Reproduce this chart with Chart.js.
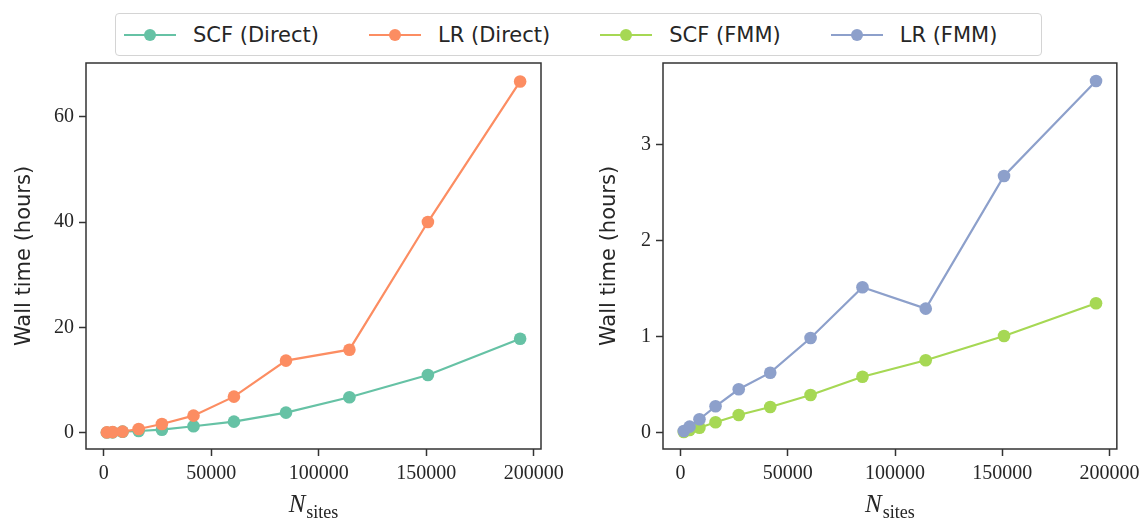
<!DOCTYPE html>
<html>
<head>
<meta charset="utf-8">
<script src="https://cdn.jsdelivr.net/npm/chart.js@4"></script>
<style>
  body { margin: 0; background: #fff; width: 1146px; height: 521px; position: relative; overflow: hidden; }
  .box { position: absolute; top: 0; width: 573px; height: 521px; }
  #legend {
    position: absolute; left: 115px; top: 13px; width: 927px; height: 43px; box-sizing: border-box;
    border: 1px solid #d4d4d4; border-radius: 4px; display: flex; align-items: center;
    padding-left: 8px; font-family: "DejaVu Sans"; font-size: 21px; color: #262626; background: #fff;
  }
  .item { display: flex; align-items: center; margin-right: 50px; white-space: nowrap; }
  .sw { position: relative; width: 52px; height: 2px; margin-right: 17px; }
  .sw i { position: absolute; left: 20px; top: -5px; width: 12px; height: 12px; border-radius: 50%; }
</style>
</head>
<body>
<div class="box" style="left:0"><canvas id="chartDirect" width="573" height="521"></canvas></div>
<div class="box" style="left:573px"><canvas id="chartFmm" width="573" height="521"></canvas></div>
<div id="legend"></div>
<script>
// N_sites for each run
const sites = [1500, 4200, 8800, 16300, 27100, 41800, 60600, 84800, 114300, 150800, 193700];
// wall time in hours
const scfDirect = [0.02, 0.05, 0.19, 0.32, 0.57, 1.22, 2.09, 3.80, 6.72, 10.96, 17.85];
const lrDirect = [0.05, 0.10, 0.20, 0.70, 1.65, 3.23, 6.84, 13.68, 15.76, 40.0, 66.7];
const scfFmm = [0.007, 0.028, 0.052, 0.108, 0.184, 0.268, 0.393, 0.583, 0.754, 1.007, 1.348];
const lrFmm = [0.018, 0.063, 0.14, 0.275, 0.452, 0.625, 0.986, 1.515, 1.292, 2.674, 3.664];

const xTicks = [0, 50000, 100000, 150000, 200000];
const yTicksDirect = [0, 20, 40, 60];
const yTicksFmm = [0, 1, 2, 3];

const seriesNames = ["SCF (Direct)", "LR (Direct)", "SCF (FMM)", "LR (FMM)"];
const seriesColors = ["#66c2a5", "#fc8d62", "#a6d854", "#8da0cb"];
const yTitle = "Wall time (hours)";
const xTitleMain = "N";
const xTitleSub = "sites";

const axisColor = "#333333";
const textColor = "#262626";

// frame around the plot + the N_sites label
const framePlugin = {
  id: "frame",
  afterDraw(chart) {
    const { ctx, chartArea: a } = chart;
    ctx.save();
    ctx.strokeStyle = axisColor;
    ctx.lineWidth = 1.5;
    ctx.strokeRect(a.left, a.top, a.right - a.left, a.bottom - a.top);

    const cx = (a.left + a.right) / 2;
    ctx.fillStyle = textColor;
    ctx.textBaseline = "alphabetic";
    ctx.font = "italic 25px 'Liberation Serif'";
    const wMain = ctx.measureText(xTitleMain).width;
    ctx.font = "18px 'Liberation Serif'";
    const wSub = ctx.measureText(xTitleSub).width;
    const x0 = cx - (wMain + wSub + 1) / 2;
    ctx.font = "italic 25px 'Liberation Serif'";
    ctx.fillText(xTitleMain, x0, 512);
    ctx.font = "18px 'Liberation Serif'";
    ctx.fillText(xTitleSub, x0 + wMain + 1, 518);
    ctx.restore();
  }
};

function makeSet(label, data, color, order) {
  return {
    label,
    data: sites.map((x, i) => ({ x, y: data[i] })),
    borderColor: color,
    backgroundColor: color,
    borderWidth: 2.2,
    pointRadius: 6.3,
    pointHoverRadius: 6.3,
    pointBorderWidth: 0,
    tension: 0,
    order
  };
}

function makeChart(id, sets, yMin, yMax, yTicks, yAxisWidth, padRight, titlePad) {
  const ctx = document.getElementById(id).getContext("2d");
  return new Chart(ctx, {
    type: "line",
    data: { datasets: sets },
    plugins: [framePlugin],
    options: {
      responsive: false,
      animation: false,
      events: [],
      layout: { padding: { left: 0, top: 63, right: padRight, bottom: 0 } },
      plugins: { legend: { display: false }, tooltip: { enabled: false } },
      scales: {
        x: {
          type: "linear",
          min: -8200,
          max: 203400,
          afterBuildTicks: s => { s.ticks = xTicks.map(v => ({ value: v })); },
          afterFit: s => { s.height = 72; },
          grid: { drawOnChartArea: false, drawTicks: true, tickLength: 7, tickColor: axisColor, tickWidth: 1.5 },
          border: { display: false },
          ticks: {
            color: textColor,
            font: { family: "Liberation Serif", size: 20 },
            padding: 6,
            maxRotation: 0,
            callback: v => String(v)
          }
        },
        y: {
          type: "linear",
          min: yMin,
          max: yMax,
          afterBuildTicks: s => { s.ticks = yTicks.map(v => ({ value: v })); },
          afterFit: s => { s.width = yAxisWidth; },
          grid: { drawOnChartArea: false, drawTicks: true, tickLength: 7, tickColor: axisColor, tickWidth: 1.5 },
          border: { display: false },
          ticks: {
            color: textColor,
            font: { family: "Liberation Serif", size: 20 },
            padding: 5,
            callback: v => String(v)
          },
          title: {
            display: true,
            text: yTitle,
            color: textColor,
            font: { family: "DejaVu Sans", size: 21 },
            padding: { top: titlePad, bottom: 0 }
          }
        }
      }
    }
  });
}

makeChart("chartDirect", [
  makeSet(seriesNames[0], scfDirect, seriesColors[0], 1),
  makeSet(seriesNames[1], lrDirect, seriesColors[1], 0)
], -3.1, 70.2, yTicksDirect, 86, 32, 12);

makeChart("chartFmm", [
  makeSet(seriesNames[2], scfFmm, seriesColors[2], 1),
  makeSet(seriesNames[3], lrFmm, seriesColors[3], 0)
], -0.17, 3.851, yTicksFmm, 90, 28, 24);

// shared legend across both panels
const legend = document.getElementById("legend");
seriesNames.forEach((name, i) => {
  const item = document.createElement("div");
  item.className = "item";
  const sw = document.createElement("div");
  sw.className = "sw";
  sw.style.background = seriesColors[i];
  const dot = document.createElement("i");
  dot.style.background = seriesColors[i];
  sw.appendChild(dot);
  const label = document.createElement("span");
  label.textContent = name;
  item.appendChild(sw);
  item.appendChild(label);
  legend.appendChild(item);
});
</script>
</body>
</html>
